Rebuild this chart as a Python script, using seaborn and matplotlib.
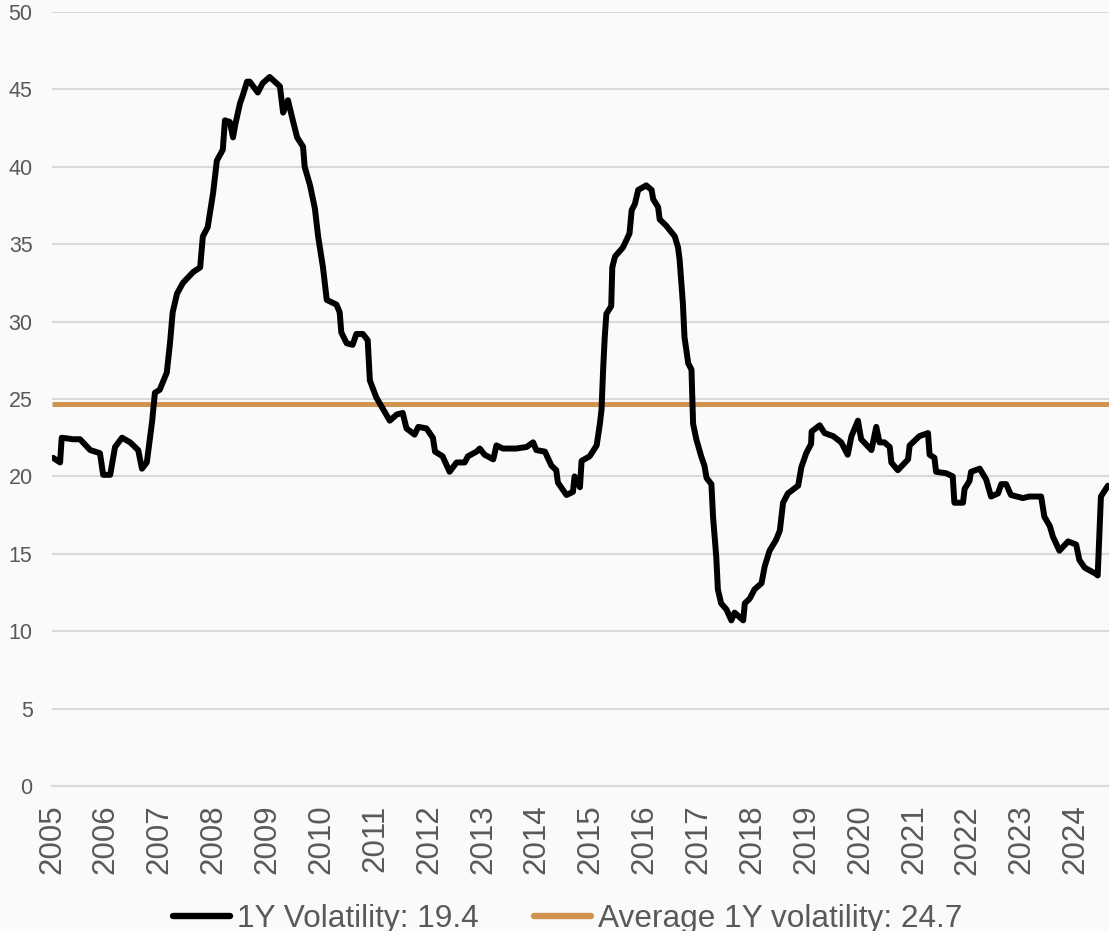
import matplotlib
matplotlib.use("Agg")
import matplotlib.pyplot as plt
import seaborn as sns
import pandas as pd
import numpy as np

# ---- data ----
years = [
    2005.02, 2005.15, 2005.18, 2005.39, 2005.52, 2005.71, 2005.89, 2005.95, 2006.08, 2006.17,
    2006.30, 2006.45, 2006.60, 2006.67, 2006.76, 2006.86, 2006.91, 2007.00, 2007.13, 2007.19,
    2007.24, 2007.32, 2007.43, 2007.62, 2007.75, 2007.80, 2007.89, 2007.99, 2008.06, 2008.17,
    2008.21, 2008.30, 2008.36, 2008.40, 2008.49, 2008.54, 2008.62, 2008.67, 2008.82, 2008.91,
    2009.04, 2009.23, 2009.29, 2009.38, 2009.47, 2009.55, 2009.66, 2009.69, 2009.79, 2009.88,
    2009.94, 2010.03, 2010.10, 2010.28, 2010.34, 2010.37, 2010.47, 2010.58, 2010.65, 2010.77,
    2010.86, 2010.90, 2011.02, 2011.12, 2011.27, 2011.40, 2011.51, 2011.58, 2011.73, 2011.80,
    2011.95, 2012.07, 2012.11, 2012.25, 2012.38, 2012.51, 2012.66, 2012.72, 2012.88, 2012.94,
    2013.03, 2013.19, 2013.25, 2013.37, 2013.62, 2013.81, 2013.93, 2013.99, 2014.15, 2014.27,
    2014.36, 2014.39, 2014.55, 2014.67, 2014.70, 2014.80, 2014.83, 2014.98, 2015.11, 2015.17,
    2015.20, 2015.23, 2015.26, 2015.29, 2015.38, 2015.40, 2015.45, 2015.60, 2015.72, 2015.76,
    2015.82, 2015.88, 2016.03, 2016.13, 2016.16, 2016.25, 2016.28, 2016.40, 2016.56, 2016.62,
    2016.65, 2016.71, 2016.74, 2016.81, 2016.87, 2016.90, 2016.96, 2017.05, 2017.11, 2017.15,
    2017.24, 2017.27, 2017.33, 2017.36, 2017.42, 2017.52, 2017.61, 2017.67, 2017.83, 2017.86,
    2017.95, 2018.04, 2018.17, 2018.23, 2018.32, 2018.44, 2018.51, 2018.57, 2018.66, 2018.85,
    2018.91, 2019.00, 2019.09, 2019.10, 2019.25, 2019.34, 2019.50, 2019.65, 2019.77, 2019.84,
    2019.96, 2020.02, 2020.21, 2020.30, 2020.36, 2020.45, 2020.55, 2020.58, 2020.70, 2020.89,
    2020.92, 2021.10, 2021.26, 2021.29, 2021.38, 2021.41, 2021.60, 2021.72, 2021.75, 2021.91,
    2021.94, 2022.03, 2022.06, 2022.22, 2022.34, 2022.43, 2022.56, 2022.62, 2022.71, 2022.80,
    2023.02, 2023.14, 2023.36, 2023.42, 2023.52, 2023.58, 2023.70, 2023.86, 2024.01, 2024.07,
    2024.17, 2024.38, 2024.41, 2024.47, 2024.60,
]
volatility = [
    21.2, 20.9, 22.5, 22.4, 22.4, 21.7, 21.5, 20.1, 20.1, 21.9,
    22.5, 22.2, 21.7, 20.5, 20.9, 23.6, 25.4, 25.6, 26.7, 28.6,
    30.6, 31.8, 32.5, 33.2, 33.5, 35.5, 36.1, 38.3, 40.4, 41.1,
    43.0, 42.9, 41.9, 42.7, 44.1, 44.6, 45.5, 45.5, 44.8, 45.4,
    45.8, 45.2, 43.5, 44.3, 43.0, 41.9, 41.3, 40.0, 38.8, 37.3,
    35.5, 33.5, 31.4, 31.1, 30.6, 29.3, 28.6, 28.5, 29.2, 29.2,
    28.8, 26.2, 25.1, 24.5, 23.6, 24.0, 24.1, 23.1, 22.7, 23.2,
    23.1, 22.5, 21.6, 21.3, 20.3, 20.9, 20.9, 21.3, 21.6, 21.8,
    21.4, 21.1, 22.0, 21.8, 21.8, 21.9, 22.2, 21.7, 21.6, 20.7,
    20.4, 19.6, 18.8, 19.0, 20.0, 19.3, 21.0, 21.3, 22.0, 23.4,
    24.3, 26.9, 29.0, 30.5, 31.0, 33.5, 34.2, 34.8, 35.7, 37.2,
    37.6, 38.5, 38.8, 38.5, 37.9, 37.4, 36.6, 36.2, 35.5, 34.8,
    34.0, 31.2, 29.0, 27.3, 26.9, 23.4, 22.4, 21.3, 20.7, 19.9,
    19.5, 17.4, 14.8, 12.7, 11.8, 11.4, 10.7, 11.2, 10.7, 11.8,
    12.1, 12.7, 13.1, 14.2, 15.2, 15.9, 16.5, 18.3, 18.9, 19.4,
    20.6, 21.5, 22.1, 22.9, 23.3, 22.8, 22.6, 22.2, 21.4, 22.6,
    23.6, 22.4, 21.7, 23.2, 22.2, 22.2, 21.9, 20.9, 20.4, 21.1,
    22.0, 22.6, 22.8, 21.4, 21.2, 20.3, 20.2, 20.0, 18.3, 18.3,
    19.2, 19.7, 20.3, 20.5, 19.8, 18.7, 18.9, 19.5, 19.5, 18.8,
    18.6, 18.7, 18.7, 17.4, 16.8, 16.1, 15.2, 15.8, 15.6, 14.6,
    14.1, 13.7, 13.6, 18.7, 19.4,
]
average_vol = 24.7
series_labels = ["1Y Volatility: 19.4", "Average 1Y volatility: 24.7"]
year_ticks = list(range(2005, 2025))
y_ticks = [0, 5, 10, 15, 20, 25, 30, 35, 40, 45, 50]

df = pd.DataFrame({"year": years, "vol": volatility})

# ---- style ----
sns.set_style("white")
plt.rcParams["font.family"] = ["Liberation Sans", "DejaVu Sans"]
grey_text = "#595959"
grid_c = "#D9D9D9"
bg = "#FAFAFA"
orange = "#D0944F"

fig = plt.figure(figsize=(11.09, 9.31), dpi=100, facecolor=bg)
ax = fig.add_axes([52 / 1109, 1 - 786 / 931, 1 - 52 / 1109, (786 - 12) / 931])
ax.set_facecolor(bg)

ax.set_ylim(0, 50)
ax.set_xlim(2005, 2024.62)
ax.set_yticks(y_ticks)
ax.set_xticks(year_ticks)
ax.set_xticklabels([str(y) for y in year_ticks], rotation=90)
ax.yaxis.grid(True, color=grid_c, linewidth=1.5)
ax.set_axisbelow(True)

ax.axhline(average_vol, color=orange, linewidth=3.6, label=series_labels[1], zorder=2,
           solid_capstyle="butt")
sns.lineplot(data=df, x="year", y="vol", ax=ax, color="black", linewidth=4.3,
             label=series_labels[0], zorder=3,
             solid_joinstyle="round", solid_capstyle="round")

for s in ["top", "right", "left"]:
    ax.spines[s].set_visible(False)
ax.spines["bottom"].set_color(grid_c)
ax.spines["bottom"].set_linewidth(1.5)

ax.tick_params(axis="y", length=0, pad=14, labelsize=15.5, labelcolor=grey_text)
ax.tick_params(axis="x", length=6.5, width=1.5, color=grid_c, pad=7,
               labelsize=22.5, labelcolor=grey_text)
ax.set_xlabel("")
ax.set_ylabel("")

handles, labels = ax.get_legend_handles_labels()
order = [labels.index(series_labels[0]), labels.index(series_labels[1])]
ax.get_legend().remove()
leg = fig.legend([handles[i] for i in order], [labels[i] for i in order],
                 loc="center", bbox_to_anchor=(0.512, 0.0125), ncol=2, frameon=False,
                 fontsize=22.8, labelcolor=grey_text, handlelength=1.8, handletextpad=0.22,
                 columnspacing=1.73)
for lh in leg.get_lines():
    lh.set_solid_capstyle("round")
    lh.set_linewidth(4.6)

fig.savefig("out.png", dpi=100, facecolor=bg)
